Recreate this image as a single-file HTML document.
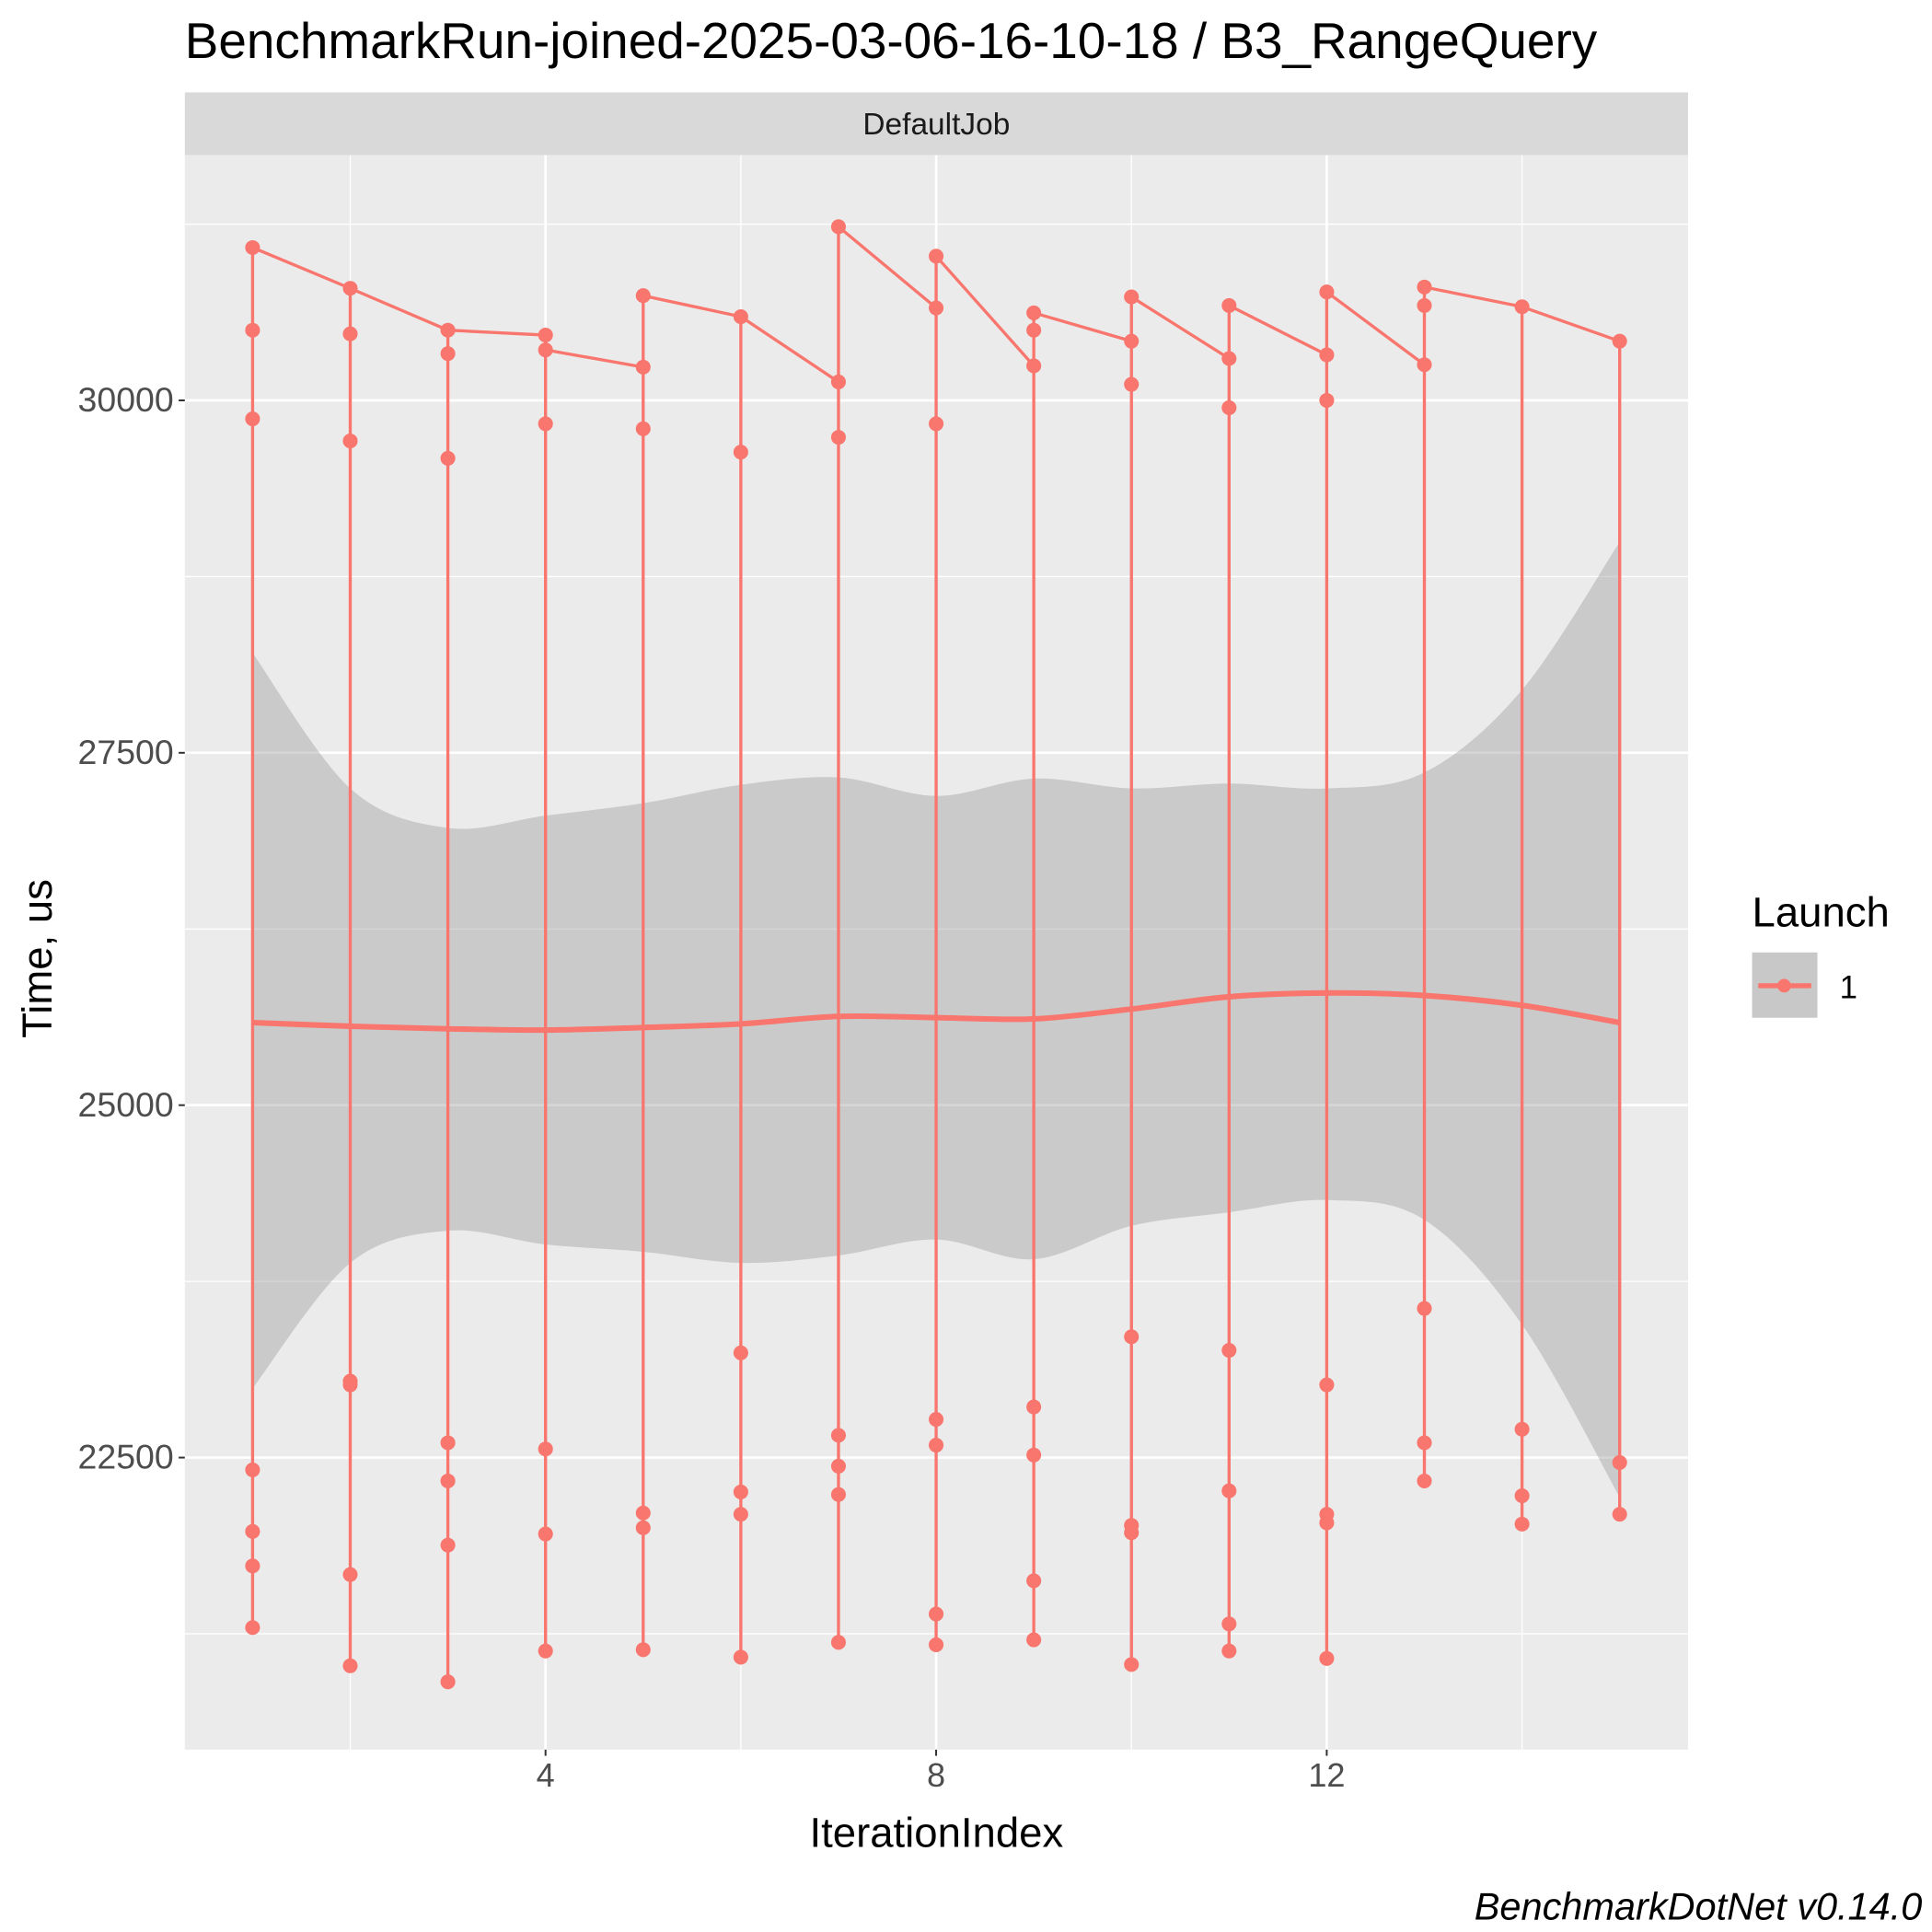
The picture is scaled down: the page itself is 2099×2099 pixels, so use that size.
<!DOCTYPE html>
<html><head><meta charset="utf-8"><style>
html,body{margin:0;padding:0;background:#fff;}
svg{display:block;font-family:"Liberation Sans",Arial,sans-serif;}
</style></head><body>
<svg id="chart" width="2099" height="2099" viewBox="0 0 1568 1568" xmlns="http://www.w3.org/2000/svg">
<rect x="0" y="0" width="1568" height="1568" fill="#fff"/>
<text x="150" y="47" font-size="41" fill="#000">BenchmarkRun-joined-2025-03-06-16-10-18 / B3_RangeQuery</text>
<rect x="150" y="75" width="1220" height="51" fill="#D9D9D9"/>
<text x="760" y="109" font-size="25" text-anchor="middle" fill="#1a1a1a">DefaultJob</text>
<rect x="150" y="126" width="1220" height="1294" fill="#EBEBEB"/>
<g id="grid"></g>
<g id="ribbon"></g>
<g id="series"></g>
<g id="axes"></g>
<text x="760" y="1499" font-size="34" text-anchor="middle" fill="#000">IterationIndex</text>
<text transform="translate(42,778) rotate(-90)" font-size="34" text-anchor="middle" fill="#000">Time, us</text>
<text x="1422" y="752" font-size="34" fill="#000">Launch</text>
<g>
<rect x="1422" y="773" width="53" height="53" fill="#C8C8C8"/>
<line x1="1427" y1="800" x2="1470" y2="800" stroke="#F8766D" stroke-width="4"/>
<circle cx="1448" cy="800" r="5.5" fill="#F8766D"/>
<text x="1493" y="810" font-size="26" fill="#000">1</text>
</g>
<text x="1560" y="1558" font-size="31" font-style="italic" text-anchor="end" fill="#000">BenchmarkDotNet v0.14.0</text>
</svg>
<script>
const iterations = [1,2,3,4,5,6,7,8,9,10,11,12,13,14,15];
const times = [
 [31084,30498,29869,22413,21976,21731,21294],
 [30795,30472,29712,23042,23016,21670,21023],
 [30498,30332,29589,22605,22334,21879,20909],
 [30463,30358,29834,22561,21958,21128],
 [30743,30236,29799,22107,22002,21137],
 [30594,29633,23243,22256,22098,21084],
 [31232,30131,29738,22658,22439,22238,21189],
 [31023,30656,29834,22771,22588,21390,21172],
 [30621,30498,30245,22859,22518,21626,21207],
 [30734,30420,30114,23357,22019,21967,21032],
 [30673,30297,29948,23261,22264,21320,21128],
 [30769,30323,30000,23016,22098,22037,21075],
 [30804,30673,30253,23558,22605,22334],
 [30664,22701,22229,22028],
 [30420,22465,22098]
];
const entryTimes = [31084,30795,30498,30463,30236,30594,30131,30656,30245,30420,30297,30323,30253,30664,30420];
const exitTimes  = [31084,30795,30498,30358,30743,30594,31232,31023,30621,30734,30673,30769,30804,30664,30420];
const smoothMean = [25586,25560,25542,25533,25551,25577,25630,25621,25612,25682,25769,25796,25778,25708,25586];
const smoothUpper = [28208,27247,26967,27054,27142,27273,27325,27194,27317,27247,27282,27247,27360,27946,28995];
const smoothLower = [22990,23881,24109,24012,23960,23881,23934,24047,23907,24144,24240,24327,24187,23444,22220];
const yTicks = [22500,25000,27500,30000];
const yMinor = [21250,23750,26250,28750,31250];
const xTicks = [4,8,12];
const xMinor = [2,6,10,14];

const NS="http://www.w3.org/2000/svg";
const px0=150, px1=1370, py0=126, py1=1420;
const xMin=0.306, xMax=15.70, yMin=20428, yMax=31739;
function xs(v){return px0+(v-xMin)/(xMax-xMin)*(px1-px0);}
function ys(v){return py1-(v-yMin)/(yMax-yMin)*(py1-py0);}
function mk(tag,attrs,parent){const e=document.createElementNS(NS,tag);for(const k in attrs)e.setAttribute(k,attrs[k]);parent.appendChild(e);return e;}

const grid=document.getElementById('grid');
yMinor.forEach(v=>{const l=mk('line',{x1:px0,x2:px1,y1:ys(v),y2:ys(v),stroke:'#fff','stroke-width':1},grid);

});
xMinor.forEach(v=>{const l=mk('line',{x1:xs(v),x2:xs(v),y1:py0,y2:py1,stroke:'#fff','stroke-width':1},grid);

});
yTicks.forEach(v=>{const l=mk('line',{x1:px0,x2:px1,y1:ys(v),y2:ys(v),stroke:'#fff','stroke-width':2},grid);

});
xTicks.forEach(v=>{const l=mk('line',{x1:xs(v),x2:xs(v),y1:py0,y2:py1,stroke:'#fff','stroke-width':2},grid);

});

function smoothPath(pts,move){
 let d=(move?'M':'L')+pts[0][0]+','+pts[0][1];
 for(let i=0;i<pts.length-1;i++){
  const p0=pts[i-1]||pts[i],p1=pts[i],p2=pts[i+1],p3=pts[i+2]||p2;
  const c1=[p1[0]+(p2[0]-p0[0])/6,p1[1]+(p2[1]-p0[1])/6];
  const c2=[p2[0]-(p3[0]-p1[0])/6,p2[1]-(p3[1]-p1[1])/6];
  d+=' C'+c1[0]+','+c1[1]+' '+c2[0]+','+c2[1]+' '+p2[0]+','+p2[1];
 }
 return d;
}
const up=iterations.map((x,i)=>[xs(x),ys(smoothUpper[i])]);
const lo=iterations.map((x,i)=>[xs(x),ys(smoothLower[i])]).reverse();
const rib=mk('path',{d:smoothPath(up,true)+' '+smoothPath(lo,false)+' Z',fill:'#999999','fill-opacity':0.4},document.getElementById('ribbon'));



const ser=document.getElementById('series');
const col='#F8766D';
iterations.forEach((x,i)=>{
 const mn=Math.min(...times[i]),mx=Math.max(...times[i]);
 const v=mk('line',{x1:xs(x),x2:xs(x),y1:ys(mn),y2:ys(mx),stroke:col,'stroke-width':2.5},ser);
 
 
 if(i<iterations.length-1){
  const c=mk('line',{x1:xs(x),y1:ys(exitTimes[i]),x2:xs(iterations[i+1]),y2:ys(entryTimes[i+1]),stroke:col,'stroke-width':2.5},ser);
  
  
 }
});
const mean=mk('path',{d:smoothPath(iterations.map((x,i)=>[xs(x),ys(smoothMean[i])]),true),fill:'none',stroke:col,'stroke-width':4.5},ser);


iterations.forEach((x,i)=>{
 times[i].forEach(t=>{
  const c=mk('circle',{cx:xs(x),cy:ys(t),r:6,fill:col},ser);
  
  
 });
});

const ax=document.getElementById('axes');
yTicks.forEach(v=>{
 const t=mk('line',{x1:px0-5,x2:px0,y1:ys(v),y2:ys(v),stroke:'#333','stroke-width':1.5},ax);
 
 
 const l=mk('text',{x:px0-9,y:ys(v)+9,'font-size':28,'text-anchor':'end',fill:'#4D4D4D'},ax);
 l.textContent=v;
 
 
});
xTicks.forEach(v=>{
 const t=mk('line',{x1:xs(v),x2:xs(v),y1:py1,y2:py1+5,stroke:'#333','stroke-width':1.5},ax);
 
 
 const l=mk('text',{x:xs(v),y:py1+30,'font-size':27,'text-anchor':'middle',fill:'#4D4D4D'},ax);
 l.textContent=v;
 
 
});
</script>
</body></html>
